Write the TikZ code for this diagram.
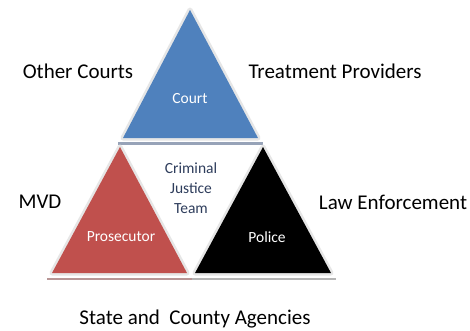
\documentclass[tikz,border=0pt]{standalone}
\usepackage{fontspec}
\setmainfont{Carlito}
\definecolor{courtblue}{HTML}{4F81BD}
\definecolor{prosred}{HTML}{C0504D}
\definecolor{rimgray}{HTML}{E6E6E6}
\definecolor{teamtext}{HTML}{2E3D5C}
\begin{document}
\begin{tikzpicture}[x=1pt,y=-1pt,
  rim/.style={draw=rimgray,fill=rimgray,line width=5pt,line join=round},
  outer/.style={font=\fontsize{21}{24}\selectfont,text=black,inner sep=0pt},
  inner/.style={font=\fontsize{15.5}{18}\selectfont,text=white,inner sep=0pt},
  team/.style={font=\fontsize{15.5}{20}\selectfont,text=teamtext,align=center,inner sep=0pt}]
\useasboundingbox (0,0) rectangle (470,330);
\fill[white] (0,0) rectangle (470,330);
% shadows
\fill[fill={rgb,255:red,151;green,163;blue,184}] (118,142) rectangle (263,144.5);
\fill[fill={rgb,255:red,184;green,150;blue,150}] (47,277.5) rectangle (192,280);
\fill[fill={rgb,255:red,181;green,181;blue,181}] (192,277.5) rectangle (336,280);
% rims
\path[rim] (190,10) -- (258,138) -- (123,138) -- cycle;
\path[rim] (120,147) -- (187,273) -- (52,273) -- cycle;
\path[rim] (263,147) -- (331,273) -- (195,273) -- cycle;
% fills
\fill[courtblue] (190,10) -- (258,138) -- (123,138) -- cycle;
\fill[prosred] (120,147) -- (187,273) -- (52,273) -- cycle;
\fill[black] (263,147) -- (331,273) -- (195,273) -- cycle;
% labels
\node[inner] (court) at (190,99) {Court};
\node[inner] (pros) at (121,237) {Prosecutor};
\node[inner] (police) at (267,237) {Police};
\node[team] (team) at (191,188) {Criminal\\Justice\\Team};
\node[outer] (oc) at (78,71) {Other Courts};
\node[outer] (tp) at (335,71) {Treatment Providers};
\node[outer] (mvd) at (40,202) {MVD};
\node[outer] (le) at (393,202) {Law Enforcement};
\node[outer] (sca) at (195,319) {State and\ \ County Agencies};
\end{tikzpicture}
\end{document}
